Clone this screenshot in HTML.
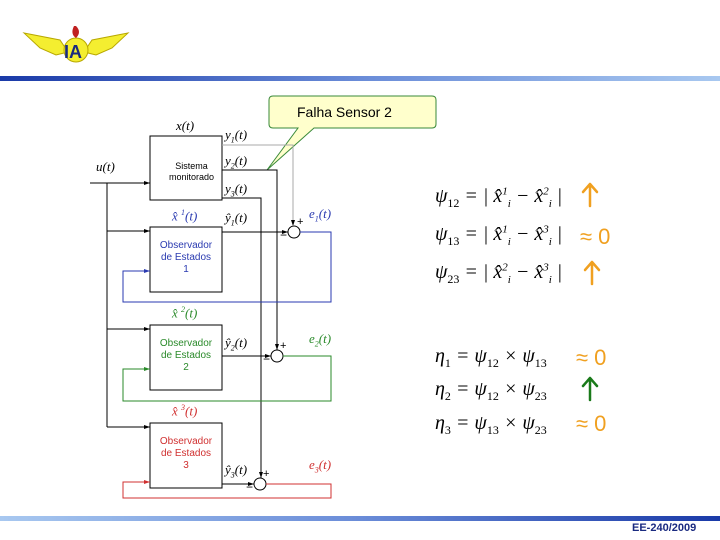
<!DOCTYPE html>
<html><head><meta charset="utf-8"><style>
body{margin:0;width:720px;height:540px;background:#fff;overflow:hidden;position:relative;font-family:"Liberation Sans",sans-serif}
.t{position:absolute;white-space:nowrap}
.m{font-family:"Liberation Serif",serif;font-style:italic;font-size:20px;color:#000}
</style></head><body>
<div style="position:absolute;left:0;top:76px;width:720px;height:5px;background:linear-gradient(to right,#1a3aa8,#6a8cd8 50%,#a8c8f0)"></div>
<div style="position:absolute;left:0;top:516px;width:720px;height:5px;background:linear-gradient(to right,#a8c8f0,#6a8cd8 50%,#1a3aa8)"></div>
<div class="t" style="left:632px;top:522px;font-size:11px;font-weight:bold;color:#1a2a80">EE-240/2009</div>
<svg style="position:absolute;left:0;top:0" width="720" height="540">
<path d="M24 33 L60 40 L68 52 L56 55 L40 48 Z" fill="#f4ee30" stroke="#b8a800"/>
<path d="M128 33 L92 40 L84 52 L96 55 L112 48 Z" fill="#f4ee30" stroke="#b8a800"/>
<circle cx="76" cy="50" r="12" fill="#f4ee30" stroke="#b8a800"/>
<path d="M74 26 Q70 34 76 38 Q82 32 76 26Z" fill="#c02020"/>
<text x="64" y="58" font-size="18" font-weight="bold" fill="#1a2a80" font-family="Liberation Sans">IA</text>
<path d="M273 96 H432 Q436 96 436 100 V124 Q436 128 432 128 H314 L267 170 L298 128 H273 Q269 128 269 124 V100 Q269 96 273 96Z" fill="#ffffcc" stroke="#3a8a3a"/>
<g fill="none" stroke="#000" stroke-width="1">
<rect x="150" y="136" width="72" height="64"/>
<rect x="150" y="227" width="72" height="65"/>
<rect x="150" y="325" width="72" height="65"/>
<rect x="150" y="423" width="72" height="65"/>
<path d="M90 183 H150 M107 183 V427 M107 231 H150 M107 329 H150 M107 427 H150"/>
<path d="M222 170 H277 V350 M222 198 H261 V478"/>
<path d="M222 232 H288 M222 356 H271 M222 484 H254"/>
<circle cx="294" cy="232" r="6"/><circle cx="277" cy="356" r="6"/><circle cx="260" cy="484" r="6"/>
</g>
<path d="M222 145 H293 V226" fill="none" stroke="#aaa"/>
<path d="M300 232 H331 V302 H123 V271 H150" fill="none" stroke="#2a3ab0"/>
<path d="M283 356 H331 V401 H123 V369 H150" fill="none" stroke="#2a8a2a"/>
<path d="M266 484 H331 V498 H123 V482 H150" fill="none" stroke="#d03030"/>
<g fill="#000"><path d="M150 183l-6-2v4z"/><path d="M150 231l-6-2v4z"/><path d="M150 329l-6-2v4z"/><path d="M150 427l-6-2v4z"/>
<path d="M293 226l-2-6h4z"/><path d="M277 350l-2-6h4z"/><path d="M261 478l-2-6h4z"/>
<path d="M288 232l-6-2v4z"/><path d="M271 356l-6-2v4z"/><path d="M254 484l-6-2v4z"/></g>
<path d="M150 271l-6-2v4z" fill="#2a3ab0"/><path d="M150 369l-6-2v4z" fill="#2a8a2a"/><path d="M150 482l-6-2v4z" fill="#d03030"/>
<g stroke-width="2.5" fill="none" stroke-linecap="round" stroke-linejoin="round">
<path d="M590 206 V184 M583 192 L590 184 L597 192" stroke="#f0a020"/>
<path d="M592 284 V262 M585 270 L592 262 L599 270" stroke="#f0a020"/>
<path d="M590 400 V378 M583 386 L590 378 L597 386" stroke="#1a7a1a"/>
</g>
</svg>
<div class="t" style="left:297px;top:104px;font-size:14px">Falha Sensor 2</div>
<div class="t" style="left:169px;top:161px;font-size:9px;text-align:center;line-height:11px">Sistema<br>monitorado</div>
<div class="t" style="left:156px;top:240px;font-size:10px;color:#2a3ab0;text-align:center;line-height:12px;width:60px">Observador<br>de Estados<br>1</div>
<div class="t" style="left:156px;top:338px;font-size:10px;color:#2a8a2a;text-align:center;line-height:12px;width:60px">Observador<br>de Estados<br>2</div>
<div class="t" style="left:156px;top:436px;font-size:10px;color:#d03030;text-align:center;line-height:12px;width:60px">Observador<br>de Estados<br>3</div>
<div class="t m" style="font-size:13px;left:96px;top:159px">u(t)</div>
<div class="t m" style="font-size:13px;left:176px;top:118px">x(t)</div>
<div class="t m" style="font-size:13px;left:225px;top:127px">y<sub style="font-size:8px">1</sub>(t)</div>
<div class="t m" style="font-size:13px;left:225px;top:153px">y<sub style="font-size:8px">2</sub>(t)</div>
<div class="t m" style="font-size:13px;left:225px;top:181px">y<sub style="font-size:8px">3</sub>(t)</div>
<div class="t m" style="font-size:13px;left:225px;top:210px">ŷ<sub style="font-size:8px">1</sub>(t)</div>
<div class="t m" style="font-size:13px;left:225px;top:335px">ŷ<sub style="font-size:8px">2</sub>(t)</div>
<div class="t m" style="font-size:13px;left:225px;top:462px">ŷ<sub style="font-size:8px">3</sub>(t)</div>
<div class="t m" style="font-size:13px;left:172px;top:208px;color:#2a3ab0">x̂ <sup style="font-size:8px">1</sup>(t)</div>
<div class="t m" style="font-size:13px;left:172px;top:305px;color:#2a8a2a">x̂ <sup style="font-size:8px">2</sup>(t)</div>
<div class="t m" style="font-size:13px;left:172px;top:403px;color:#d03030">x̂ <sup style="font-size:8px">3</sup>(t)</div>
<div class="t m" style="font-size:13px;left:309px;top:206px;color:#2a3ab0">e<sub style="font-size:8px">1</sub>(t)</div>
<div class="t m" style="font-size:13px;left:309px;top:331px;color:#2a8a2a">e<sub style="font-size:8px">2</sub>(t)</div>
<div class="t m" style="font-size:13px;left:309px;top:457px;color:#d03030">e<sub style="font-size:8px">3</sub>(t)</div>
<div class="t" style="font-size:11px;left:297px;top:216px">+</div><div class="t" style="font-size:12px;left:280px;top:228px">−</div>
<div class="t" style="font-size:11px;left:280px;top:340px">+</div><div class="t" style="font-size:12px;left:263px;top:352px">−</div>
<div class="t" style="font-size:11px;left:263px;top:468px">+</div><div class="t" style="font-size:12px;left:246px;top:480px">−</div>
<div class="t m" style="left:435px;top:185px">ψ<sub style="font-size:12px;font-style:normal">12</sub> = | x̂<sup style="font-size:11px">1</sup><sub style="font-size:11px">i</sub> − x̂<sup style="font-size:11px">2</sup><sub style="font-size:11px">i</sub> |</div>
<div class="t m" style="left:435px;top:223px">ψ<sub style="font-size:12px;font-style:normal">13</sub> = | x̂<sup style="font-size:11px">1</sup><sub style="font-size:11px">i</sub> − x̂<sup style="font-size:11px">3</sup><sub style="font-size:11px">i</sub> |</div>
<div class="t m" style="left:435px;top:261px">ψ<sub style="font-size:12px;font-style:normal">23</sub> = | x̂<sup style="font-size:11px">2</sup><sub style="font-size:11px">i</sub> − x̂<sup style="font-size:11px">3</sup><sub style="font-size:11px">i</sub> |</div>
<div class="t" style="left:580px;top:224px;font-size:22px;color:#f0a020">≈ 0</div>
<div class="t m" style="left:435px;top:345px">η<sub style="font-size:12px;font-style:normal">1</sub> = ψ<sub style="font-size:12px;font-style:normal">12</sub> × ψ<sub style="font-size:12px;font-style:normal">13</sub></div>
<div class="t m" style="left:435px;top:378px">η<sub style="font-size:12px;font-style:normal">2</sub> = ψ<sub style="font-size:12px;font-style:normal">12</sub> × ψ<sub style="font-size:12px;font-style:normal">23</sub></div>
<div class="t m" style="left:435px;top:412px">η<sub style="font-size:12px;font-style:normal">3</sub> = ψ<sub style="font-size:12px;font-style:normal">13</sub> × ψ<sub style="font-size:12px;font-style:normal">23</sub></div>
<div class="t" style="left:576px;top:345px;font-size:22px;color:#f0a020">≈ 0</div>
<div class="t" style="left:576px;top:411px;font-size:22px;color:#f0a020">≈ 0</div>
</body></html>
